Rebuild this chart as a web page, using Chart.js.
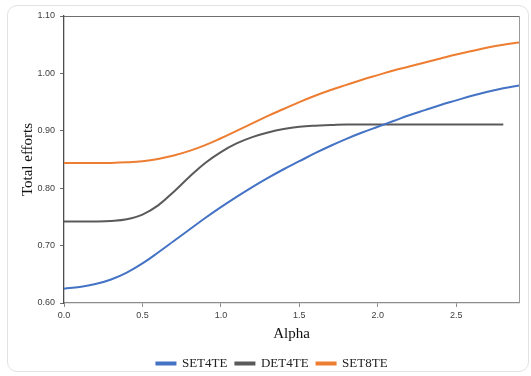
<!DOCTYPE html>
<html>
<head>
<meta charset="utf-8">
<script src="https://cdn.jsdelivr.net/npm/chart.js@4"></script>
<style>
  html, body { margin: 0; padding: 0; background: #fff; }
  #wrap { position: relative; width: 531px; height: 376px; overflow: hidden; }
  #card { position: absolute; left: 7px; top: 5px; width: 522px; height: 367px;
          border: 1px solid #e3e3e3; border-radius: 10px; box-sizing: border-box; }
  #chart { position: absolute; left: 0; top: 0; }
</style>
</head>
<body>
<div id="wrap">
  <div id="card"></div>
  <canvas id="chart" width="531" height="376"></canvas>
</div>
<script>
// alpha values (x axis)
const alpha = [0.0, 0.1, 0.2, 0.3, 0.4, 0.5, 0.6, 0.7, 0.8, 0.9,
               1.0, 1.1, 1.2, 1.3, 1.4, 1.5, 1.6, 1.7, 1.8, 1.9,
               2.0, 2.1, 2.2, 2.3, 2.4, 2.5, 2.6, 2.7, 2.8, 2.9];

const set4te = [0.625, 0.628, 0.633, 0.641, 0.653, 0.669, 0.688, 0.708, 0.728, 0.748,
                0.767, 0.785, 0.802, 0.818, 0.833, 0.847, 0.861, 0.874, 0.886, 0.897,
                0.907, 0.917, 0.927, 0.936, 0.945, 0.953, 0.961, 0.968, 0.974, 0.979];

// DET4TE stops at 2.8
const det4te = [0.742, 0.742, 0.742, 0.743, 0.746, 0.754, 0.770, 0.794, 0.820, 0.844,
                0.863, 0.878, 0.889, 0.897, 0.903, 0.907, 0.909, 0.910, 0.911, 0.911,
                0.911, 0.911, 0.911, 0.911, 0.911, 0.911, 0.911, 0.911, 0.911];

const set8te = [0.844, 0.844, 0.844, 0.844, 0.845, 0.847, 0.851, 0.857, 0.865, 0.875,
                0.887, 0.900, 0.913, 0.926, 0.938, 0.950, 0.961, 0.971, 0.980, 0.989,
                0.997, 1.005, 1.012, 1.019, 1.026, 1.033, 1.039, 1.045, 1.050, 1.054];

const seriesNames = ["SET4TE", "DET4TE", "SET8TE"];
const seriesColors = ["#4472C4", "#5A5A5A", "#ED7D31"];

const toPoints = vals => vals.map((v, i) => ({ x: alpha[i], y: v }));

// frame on the top and right of the plot area
const frame = {
  id: "frame",
  afterDraw(chart) {
    const { ctx, chartArea: a } = chart;
    ctx.save();
    ctx.lineWidth = 1;
    ctx.strokeStyle = "#6e6e6e";
    ctx.beginPath();
    ctx.moveTo(a.left, a.top + 0.5);
    ctx.lineTo(a.right + 0.5, a.top + 0.5);
    ctx.stroke();
    ctx.strokeStyle = "#9a9a9a";
    ctx.beginPath();
    ctx.moveTo(a.right + 0.5, a.top);
    ctx.lineTo(a.right + 0.5, a.bottom);
    ctx.stroke();
    ctx.restore();
  }
};

const datasets = [set4te, det4te, set8te].map((vals, i) => ({
  label: seriesNames[i],
  data: toPoints(vals),
  borderColor: seriesColors[i],
  backgroundColor: seriesColors[i],
  borderWidth: 2,
  pointRadius: 0,
  tension: 0.4
}));

new Chart(document.getElementById("chart"), {
  type: "line",
  data: { datasets },
  options: {
    responsive: false,
    animation: false,
    devicePixelRatio: 1,
    layout: { padding: { top: 16, right: 12, left: 25, bottom: -4 } },
    plugins: {
      tooltip: { enabled: false },
      legend: {
        position: "bottom",
        labels: {
          boxWidth: 19,
          boxHeight: 2,
          padding: 8,
          color: "#222",
          font: { family: "'Liberation Serif', 'Times New Roman', serif", size: 13 }
        }
      }
    },
    scales: {
      x: {
        type: "linear",
        min: 0,
        max: 2.9,
        afterFit: s => { s.height = 46; },
        border: { color: "#8c8c8c", width: 1.3 },
        grid: { drawOnChartArea: false, drawTicks: true, tickLength: 4, color: "#8c8c8c" },
        ticks: {
          stepSize: 0.5,
          includeBounds: false,
          padding: 3,
          maxRotation: 0,
          color: "#404040",
          font: { family: "'Liberation Sans', Arial, sans-serif", size: 9 },
          callback: v => v.toFixed(1)
        },
        title: {
          display: true,
          text: "Alpha",
          color: "#111",
          padding: { top: 0, bottom: 6 },
          font: { family: "'Liberation Serif', 'Times New Roman', serif", size: 15 }
        }
      },
      y: {
        min: 0.6,
        max: 1.1,
        afterFit: s => { s.width = 39; },
        border: { color: "#4d4d4d", width: 1.3 },
        grid: { drawOnChartArea: false, drawTicks: true, tickLength: 4, color: "#6e6e6e" },
        ticks: {
          stepSize: 0.1,
          padding: 5,
          color: "#404040",
          font: { family: "'Liberation Sans', Arial, sans-serif", size: 9 },
          callback: v => v.toFixed(2)
        },
        title: {
          display: true,
          text: "Total efforts",
          color: "#111",
          padding: { top: -6, bottom: 0 },
          font: { family: "'Liberation Serif', 'Times New Roman', serif", size: 15 }
        }
      }
    }
  },
  plugins: [frame]
});
</script>
</body>
</html>
